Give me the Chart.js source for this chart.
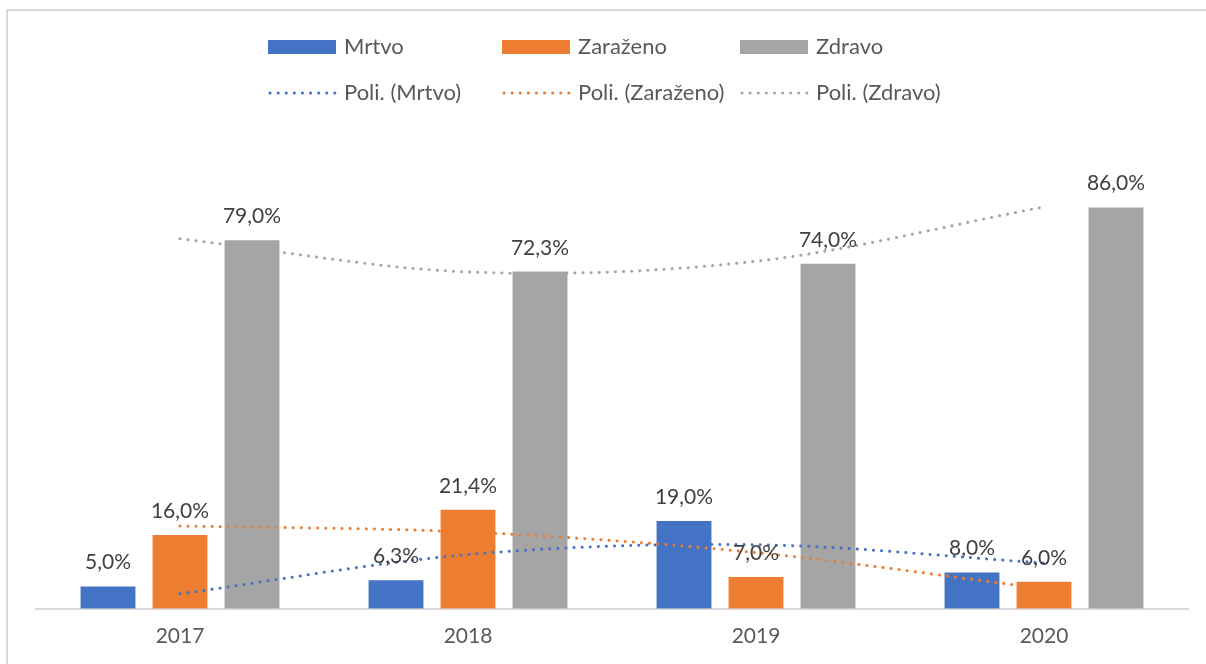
<!DOCTYPE html>
<html>
<head>
<meta charset="utf-8">
<script src="https://cdn.jsdelivr.net/npm/chart.js@4"></script>
<style>
  body { margin: 0; background: #fff; overflow: hidden; }
  #wrap { position: relative; width: 1206px; height: 664px; }
  #frame { position: absolute; left: 6px; top: 9px; width: 1300px; height: 800px; border: 2px solid #d9d9d9; }
  canvas { position: absolute; left: 0; top: 0; }
</style>
</head>
<body>
<div id="wrap">
  <div id="frame"></div>
  <canvas id="chart" width="1206" height="664"></canvas>
</div>
<script>
const years = ["2017", "2018", "2019", "2020"]
const mrtvo = [5.0, 6.3, 19.0, 8.0]
const zarazeno = [16.0, 21.4, 7.0, 6.0]
const zdravo = [79.0, 72.3, 74.0, 86.0]
// trendline heights at each year
const trendMrtvo = [3.2, 11.6, 13.7, 9.8]
const trendZarazeno = [17.7, 16.4, 12.0, 4.3]
const trendZdravo = [79.1, 72.0, 74.3, 85.9]

const blue = "#4472C4"
const orange = "#ED7D31"
const grey = "#A5A5A5"
const textColor = "#595959"
const fontFamily = "Lato, 'Noto Sans', sans-serif"

function formatPct(v){
    return v.toFixed(1).replace(".", ",") + "%"
}

function barSet(label, data, color){
    return {
        type: "bar",
        label: label,
        data: data,
        backgroundColor: color,
        borderColor: "#fff",
        borderWidth: 1,
        categoryPercentage: 0.75,
        barPercentage: 0.79,
        order: 2
    }
}

function trendSet(label, data, color){
    return {
        type: "line",
        label: label,
        data: data,
        borderColor: color,
        borderWidth: 3,
        borderDash: [0.1, 8],
        borderCapStyle: "round",
        tension: 0.33,
        pointRadius: 0,
        fill: false,
        order: 1
    }
}

// value labels above the bars
const barLabels = {
    id: "barLabels",
    afterDatasetsDraw(chart){
        const ctx = chart.ctx
        ctx.save()
        ctx.font = "21px " + fontFamily
        ctx.fillStyle = "#404040"
        ctx.textAlign = "center"
        ctx.textBaseline = "alphabetic"
        chart.data.datasets.forEach((ds, i) => {
            if (ds.type !== "bar") return
            chart.getDatasetMeta(i).data.forEach((bar, j) => {
                ctx.fillText(formatPct(ds.data[j]), bar.x, bar.y - 16)
            })
        })
        ctx.restore()
    }
}

// two-row legend laid out in columns like the original
const gridLegend = {
    id: "gridLegend",
    afterDraw(chart){
        const ctx = chart.ctx
        const cols = [268, 502, 740]
        const rows = [47, 93]
        const items = [
            {text: "Mrtvo", color: blue, bar: true},
            {text: "Zaraženo", color: orange, bar: true},
            {text: "Zdravo", color: grey, bar: true},
            {text: "Poli. (Mrtvo)", color: blue, bar: false},
            {text: "Poli. (Zaraženo)", color: orange, bar: false},
            {text: "Poli. (Zdravo)", color: grey, bar: false}
        ]
        ctx.save()
        ctx.font = "22px " + fontFamily
        ctx.textBaseline = "middle"
        items.forEach((item, i) => {
            const x = cols[i % 3]
            const y = rows[Math.floor(i / 3)]
            if (item.bar){
                ctx.fillStyle = item.color
                ctx.fillRect(x, y - 7, 68, 14)
            } else {
                ctx.strokeStyle = item.color
                ctx.lineWidth = 3
                ctx.lineCap = "round"
                ctx.setLineDash([0.1, 8])
                ctx.beginPath()
                ctx.moveTo(x + 2, y)
                ctx.lineTo(x + 68, y)
                ctx.stroke()
                ctx.setLineDash([])
            }
            ctx.fillStyle = textColor
            ctx.fillText(item.text, x + 76, y)
        })
        ctx.restore()
    }
}

const ctx = document.getElementById("chart").getContext("2d")
new Chart(ctx, {
    data: {
        labels: years,
        datasets: [
            barSet("Mrtvo", mrtvo, blue),
            barSet("Zaraženo", zarazeno, orange),
            barSet("Zdravo", zdravo, grey),
            trendSet("Poli. (Mrtvo)", trendMrtvo, blue),
            trendSet("Poli. (Zaraženo)", trendZarazeno, orange),
            trendSet("Poli. (Zdravo)", trendZdravo, grey)
        ]
    },
    options: {
        responsive: false,
        animation: false,
        layout: {
            padding: {left: 36, right: 18, top: 141, bottom: 0}
        },
        scales: {
            x: {
                grid: {display: false, drawTicks: false},
                border: {display: true, color: "#d9d9d9", width: 2},
                ticks: {color: textColor, font: {family: fontFamily, size: 21}, padding: 15}
            },
            y: {
                display: false,
                min: 0,
                max: 100
            }
        },
        plugins: {
            legend: {display: false},
            tooltip: {enabled: false}
        }
    },
    plugins: [barLabels, gridLegend]
})
</script>
</body>
</html>
